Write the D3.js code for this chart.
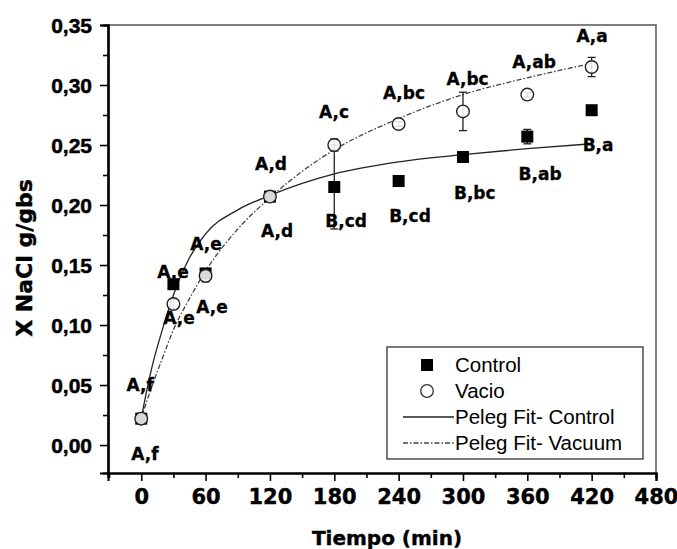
<!DOCTYPE html>
<html>
<head>
<meta charset="utf-8">
<script src="https://cdn.jsdelivr.net/npm/d3@7"></script>
<style>
  body { margin: 0; background: #fff; }
  svg { display: block; }
  .tick-y { font: bold 21px "Liberation Sans", Arial, sans-serif; stroke: #000; stroke-width: 0.5px; }
  .tick-x { font: bold 21px "DejaVu Sans", sans-serif; stroke: #000; stroke-width: 0.4px; }
  .title  { font: bold 20px "DejaVu Sans", sans-serif; stroke: #000; stroke-width: 0.4px; }
  .note   { font: bold 17px "DejaVu Sans", sans-serif; stroke: #000; stroke-width: 0.3px; }
  .legend { font: 20.5px "Liberation Sans", Arial, sans-serif; }
</style>
</head>
<body>
<svg id="chart" width="677" height="549"></svg>
<script>
// measured points (time in min, X NaCl g/gbs)
var times      = [0, 30, 60, 120, 180, 240, 300, 360, 420];
var control    = [0.022, 0.134, 0.143, 0.207, 0.215, 0.220, 0.240, 0.257, 0.279];
var controlErr = [0.003, 0.004, 0.004, 0.003, 0.035, 0.003, 0.003, 0.006, 0.003];
var vacio      = [0.022, 0.1175, 0.141, 0.207, 0.250, 0.2675, 0.278, 0.292, 0.315];
var vacioErr   = [0.004, 0.004, 0.005, 0.004, 0.005, 0.002, 0.016, 0.002, 0.008];

// Peleg fit curves
var fitTimes   = [0, 5, 10, 20, 30, 45, 60, 90, 120, 150, 180, 240, 300, 360, 420];
var fitControl = [0.022, 0.045, 0.065, 0.097, 0.125, 0.156, 0.176, 0.196, 0.208, 0.218, 0.226, 0.236, 0.242, 0.247, 0.251];
var fitVacuum  = [0.022, 0.036, 0.049, 0.073, 0.096, 0.122, 0.145, 0.180, 0.206, 0.228, 0.246, 0.272, 0.292, 0.306, 0.318];

// significance letters: text, time, value (baseline)
var notes = [
  ["A,f", -1, 0.045], ["A,f", 3.5, -0.0125],
  ["A,e", 29.7, 0.139], ["A,e", 35.2, 0.101],
  ["A,e", 60.4, 0.1625], ["A,e", 66, 0.110],
  ["A,d", 121, 0.229], ["A,d", 126.6, 0.173],
  ["A,c", 179.8, 0.2725], ["B,cd", 191, 0.182],
  ["A,bc", 245, 0.288], ["B,cd", 250.6, 0.186],
  ["A,bc", 304.3, 0.300], ["B,bc", 311, 0.205],
  ["A,ab", 366.3, 0.314], ["B,ab", 371.9, 0.221],
  ["A,a", 420.4, 0.336], ["B,a", 426, 0.245]
];

var xTicks = [0, 60, 120, 180, 240, 300, 360, 420, 480];
var yTicks = [0, 0.05, 0.10, 0.15, 0.20, 0.25, 0.30, 0.35];
var legendLabels = ["Control", "Vacio", "Peleg Fit- Control", "Peleg Fit- Vacuum"];

var svg = d3.select("#chart");
var left = 108, right = 656, plotTop = 25, bottom = 473;

var x = d3.scaleLinear().domain([-31, 480]).range([left, right]);
var y = d3.scaleLinear().domain([-0.0233, 0.35]).range([bottom, plotTop]);
var comma = d3.formatLocale({ decimal: ",", thousands: ".", grouping: [3], currency: ["", ""] }).format(".2f");

// frame (top / right thin)
svg.append("path")
   .attr("d", "M" + left + "," + plotTop + "H" + right + "V" + bottom)
   .attr("fill", "none").attr("stroke", "#555").attr("stroke-width", 1.5);

// y axis
var yAxis = svg.append("g").attr("transform", "translate(" + left + ",0)")
   .call(d3.axisLeft(y).tickValues(yTicks).tickSize(8).tickPadding(8).tickFormat(comma));
yAxis.selectAll("text").attr("class", "tick-y").attr("fill", "#000").attr("dy", "0.36em");
svg.append("g").attr("transform", "translate(" + left + ",0)")
   .call(d3.axisLeft(y).tickValues(d3.range(0.025, 0.35, 0.05)).tickSize(5).tickFormat(""));

// x axis
var xAxis = svg.append("g").attr("transform", "translate(0," + bottom + ")")
   .call(d3.axisBottom(x).tickValues(xTicks).tickSize(8).tickPadding(8));
xAxis.selectAll("text").attr("class", "tick-x").attr("fill", "#000").attr("dy", "0.72em");
svg.append("g").attr("transform", "translate(0," + bottom + ")")
   .call(d3.axisBottom(x).tickValues(d3.range(-30, 480, 60)).tickSize(5).tickFormat(""));

svg.selectAll(".domain").attr("stroke", "#000").attr("stroke-width", 2.2);
svg.selectAll(".tick line").attr("stroke", "#000").attr("stroke-width", 1.6);

// titles
svg.append("text").attr("class", "title")
   .attr("x", 387).attr("y", 545).attr("text-anchor", "middle")
   .text("Tiempo (min)");
svg.append("text").attr("class", "title").style("font-size", "22px")
   .attr("transform", "translate(32,258) rotate(-90)").attr("text-anchor", "middle")
   .text("X NaCl g/gbs");

// fit curves
var line = d3.line().curve(d3.curveMonotoneX)
   .x(function(d) { return x(d[0]); }).y(function(d) { return y(d[1]); });
svg.append("path").attr("d", line(d3.zip(fitTimes, fitControl)))
   .attr("fill", "none").attr("stroke", "#222").attr("stroke-width", 1.3);
svg.append("path").attr("d", line(d3.zip(fitTimes, fitVacuum)))
   .attr("fill", "none").attr("stroke", "#444").attr("stroke-width", 1.3)
   .attr("stroke-dasharray", "5,2,1.5,2");

// error bars
function errorBars(vals, errs) {
  var g = svg.append("g").attr("stroke", "#222").attr("stroke-width", 1.3);
  times.forEach(function(t, i) {
    var cx = x(t), y0 = y(vals[i] - errs[i]), y1 = y(vals[i] + errs[i]);
    g.append("line").attr("x1", cx).attr("x2", cx).attr("y1", y0).attr("y2", y1);
    g.append("line").attr("x1", cx - 4).attr("x2", cx + 4).attr("y1", y0).attr("y2", y0);
    g.append("line").attr("x1", cx - 4).attr("x2", cx + 4).attr("y1", y1).attr("y2", y1);
  });
}
errorBars(control, controlErr);
errorBars(vacio, vacioErr);

// markers
svg.append("g").selectAll("rect").data(times).enter().append("rect")
   .attr("x", function(d) { return x(d) - 6; })
   .attr("y", function(d, i) { return y(control[i]) - 6; })
   .attr("width", 12).attr("height", 12).attr("fill", "#000");
svg.append("g").selectAll("circle").data(times).enter().append("circle")
   .attr("cx", function(d) { return x(d); })
   .attr("cy", function(d, i) { return y(vacio[i]); })
   .attr("r", 6.3).attr("fill", "#fff").attr("fill-opacity", 0.85)
   .attr("stroke", "#222").attr("stroke-width", 1.4);

// letters
svg.append("g").selectAll("text").data(notes).enter().append("text")
   .attr("class", "note").attr("text-anchor", "middle")
   .attr("x", function(d) { return x(d[1]); })
   .attr("y", function(d) { return y(d[2]); })
   .text(function(d) { return d[0]; });

// legend
var lg = svg.append("g");
lg.append("rect").attr("x", 387).attr("y", 347).attr("width", 256).attr("height", 112)
  .attr("fill", "#fff").attr("stroke", "#333").attr("stroke-width", 1.3);
legendLabels.forEach(function(label, i) {
  var ty = 372 + i * 26;
  lg.append("text").attr("class", "legend").attr("x", 455).attr("y", ty).text(label);
  var cy = ty - 7;
  if (i === 0) lg.append("rect").attr("x", 421).attr("y", cy - 6).attr("width", 12).attr("height", 12).attr("fill", "#000");
  if (i === 1) lg.append("circle").attr("cx", 427).attr("cy", cy).attr("r", 6.3).attr("fill", "#fff").attr("stroke", "#333").attr("stroke-width", 1.3);
  if (i === 2) lg.append("line").attr("x1", 403).attr("x2", 454).attr("y1", cy).attr("y2", cy).attr("stroke", "#222").attr("stroke-width", 1.3);
  if (i === 3) lg.append("line").attr("x1", 403).attr("x2", 454).attr("y1", cy).attr("y2", cy).attr("stroke", "#444").attr("stroke-width", 1.3).attr("stroke-dasharray", "5,2,1.5,2");
});
</script>
</body>
</html>
